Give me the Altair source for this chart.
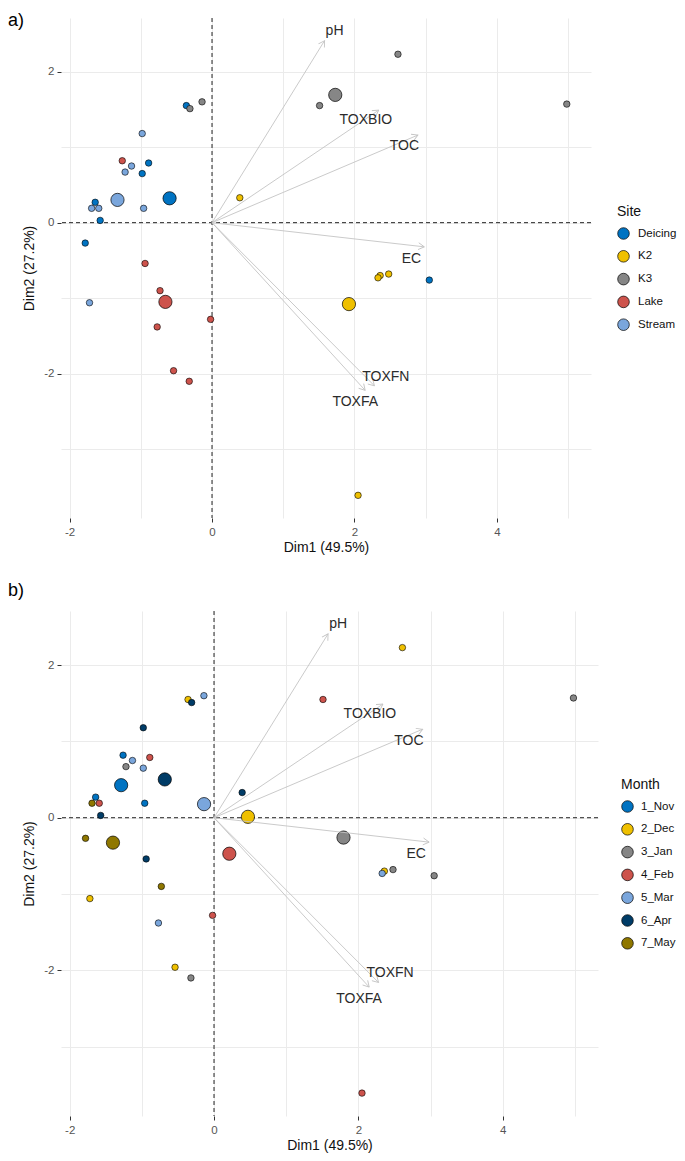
import math
import altair as alt
import pandas as pd

# ---------------- data ----------------
dim1 = [-0.36, -0.89, -0.98, -1.64, -1.57, -1.78, 3.05,          # Deicing
        0.39, 2.36, 2.33, 2.48, 2.05,                             # K2
        -0.31, -0.14, 2.61, 1.51, 4.98,                           # K3
        -1.26, -0.94, -0.73, -0.77, -0.02, -0.54, -0.32,          # Lake
        -0.98, -1.13, -1.22, -1.69, -1.59, -0.96, -1.72]          # Stream
dim2 = [1.55, 0.79, 0.65, 0.27, 0.03, -0.27, -0.76,
        0.33, -0.70, -0.73, -0.68, -3.61,
        1.51, 1.60, 2.23, 1.55, 1.57,
        0.82, -0.54, -0.90, -1.38, -1.28, -1.96, -2.10,
        1.18, 0.75, 0.67, 0.19, 0.19, 0.19, -1.06]
site = ["Deicing"] * 7 + ["K2"] * 5 + ["K3"] * 5 + ["Lake"] * 7 + ["Stream"] * 7
month = ["2_Dec", "4_Feb", "5_Mar", "1_Nov", "6_Apr", "7_May", "3_Jan",
         "6_Apr", "2_Dec", "5_Mar", "3_Jan", "4_Feb",
         "6_Apr", "5_Mar", "2_Dec", "4_Feb", "3_Jan",
         "1_Nov", "6_Apr", "7_May", "5_Mar", "4_Feb", "2_Dec", "3_Jan",
         "6_Apr", "5_Mar", "3_Jan", "7_May", "4_Feb", "1_Nov", "2_Dec"]

site_levels = ["Deicing", "K2", "K3", "Lake", "Stream"]
site_colors = ["#0073C2", "#EFC000", "#868686", "#CD534C", "#7AA6DC"]
month_levels = ["1_Nov", "2_Dec", "3_Jan", "4_Feb", "5_Mar", "6_Apr", "7_May"]
month_colors = ["#0073C2", "#EFC000", "#868686", "#CD534C", "#7AA6DC", "#003C67", "#8F7700"]

var_names = ["pH", "TOXBIO", "TOC", "EC", "TOXFN", "TOXFA"]
var_x = [1.58, 2.34, 2.89, 2.98, 2.28, 2.15]
var_y = [2.41, 1.49, 1.16, -0.32, -2.16, -2.22]
lab_x = [1.72, 2.16, 2.70, 2.80, 2.44, 2.01]
lab_y = [2.54, 1.36, 1.01, -0.48, -2.04, -2.37]

x_ticks = [-2, -1, 0, 1, 2, 3, 4, 5]
y_ticks = [-3, -2, -1, 0, 1, 2]
x_domain = [-2.12, 5.32]
y_domain = [-3.91, 2.71]

panel_tags = ["a)", "b)"]
x_title = "Dim1 (49.5%)"
y_title = "Dim2 (27.2%)"

FONT = "Liberation Sans"

ind = pd.DataFrame({"dim1": dim1, "dim2": dim2, "Site": site, "Month": month})
zero = pd.DataFrame({"z": [0]})

ARROW = "M -0.5 0.866 L 0 0 L 0.5 0.866"


def make_panel(field, levels, colors, w, h, leg_x, leg_y, lab_off, tags=None):
    kx = w / (x_domain[1] - x_domain[0])
    ky = h / (y_domain[1] - y_domain[0])
    ang = [math.degrees(math.atan2(vx * kx, vy * ky)) % 360 for vx, vy in zip(var_x, var_y)]
    var = pd.DataFrame({"name": var_names, "vx": var_x, "vy": var_y,
                        "lx": lab_x, "ly": lab_y, "ang": ang})

    xs = alt.Scale(domain=x_domain, nice=False, zero=False)
    ys = alt.Scale(domain=y_domain, nice=False, zero=False)
    label_expr = "datum.value % 2 === 0 ? toString(datum.value) : ''"
    tick_op = {"condition": {"test": "datum.value % 2 !== 0", "value": 0}, "value": 1}
    xa = alt.Axis(values=x_ticks, labelExpr=label_expr, tickOpacity=tick_op,
                  titlePadding=3, labelPadding=4)
    ya = alt.Axis(values=y_ticks, labelExpr=label_expr, tickOpacity=tick_op,
                  titlePadding=7)

    fill = alt.Fill(f"{field}:N",
                    scale=alt.Scale(domain=levels, range=colors),
                    legend=alt.Legend(title=field, orient="none", labelOffset=lab_off,
                                      legendX=leg_x, legendY=leg_y))

    def X(f):
        return alt.X(f, scale=xs, title=x_title)

    def Y(f):
        return alt.Y(f, scale=ys, title=y_title)

    hline = alt.Chart(zero).mark_rule(strokeDash=[4, 3], color="#222", strokeWidth=1).encode(
        y=Y("z:Q"))
    vline = alt.Chart(zero).mark_rule(strokeDash=[4, 3], color="#222", strokeWidth=1).encode(
        x=X("z:Q"))

    pts = alt.Chart(ind).mark_circle(size=42, stroke="black", strokeWidth=0.6, opacity=1).encode(
        x=alt.X("dim1:Q", scale=xs, title=x_title, axis=xa),
        y=alt.Y("dim2:Q", scale=ys, title=y_title, axis=ya),
        fill=fill,
    )
    means = alt.Chart(ind).transform_aggregate(
        mx="mean(dim1)", my="mean(dim2)", groupby=[field]
    ).mark_circle(size=175, stroke="black", strokeWidth=0.7, opacity=1).encode(
        x=X("mx:Q"), y=Y("my:Q"), fill=fill)

    shafts = alt.Chart(var).transform_calculate(ox="0", oy="0").mark_rule(
        color="#C4C4C4", strokeWidth=0.9).encode(
        x=X("ox:Q"), y=Y("oy:Q"), x2="vx:Q", y2="vy:Q")
    heads = alt.Chart(var).mark_point(shape=ARROW, filled=False, size=190, color="#C4C4C4",
                                      strokeWidth=0.9, opacity=1).encode(
        x=X("vx:Q"), y=Y("vy:Q"), angle=alt.Angle("ang:Q", scale=None))
    labels = alt.Chart(var).mark_text(fontSize=14, font=FONT, color="#2b2b2b").encode(
        x=X("lx:Q"), y=Y("ly:Q"), text="name:N")

    layers = [hline, vline, pts, means, shafts, heads, labels]
    if tags:
        for t, tx, ty in tags:
            layers.append(
                alt.Chart(pd.DataFrame({"tag": [t]})).mark_text(
                    align="left", baseline="top", fontSize=18, font=FONT, color="black"
                ).encode(x=alt.value(tx), y=alt.value(ty), text="tag:N"))
        # invisible anchor keeping the top of the first tag inside the page
        layers.append(
            alt.Chart(pd.DataFrame({"tag": [tags[0][0]]})).mark_point(
                size=1, opacity=0, filled=True
            ).encode(x=alt.value(tags[0][1] + 5), y=alt.value(tags[0][2] - 3.5)))

    return alt.layer(*layers).properties(width=w, height=h)


pa = make_panel("Site", site_levels, site_colors, 530, 500, 556, 187, 8,
                tags=[(panel_tags[0], -53, -6), (panel_tags[1], -53, 564)])
pb = make_panel("Month", month_levels, month_colors, 537, 505, 560, 167, 7)

chart = alt.concat(pa, pb, columns=1, spacing=10).resolve_scale(
    fill="independent", x="independent", y="independent"
).resolve_legend(fill="independent").properties(padding=0).configure(
    font=FONT
).configure_view(stroke=None).configure_axis(
    gridColor="#EBEBEB", gridWidth=1, domain=False,
    labelFont=FONT, titleFont=FONT, labelColor="#555555", titleColor="#111111",
    labelFontSize=11.5, titleFontSize=14, titleFontWeight="normal",
    tickColor="#333333", tickSize=4, labelPadding=3,
).configure_legend(
    titleFont=FONT, labelFont=FONT, titleFontSize=14, titleFontWeight="normal",
    titleColor="#111111", labelColor="#111111", labelFontSize=11.5,
    symbolType="circle", symbolSize=135, symbolStrokeColor="black", symbolStrokeWidth=0.7,
    rowPadding=7.8, titlePadding=8, padding=0,
)

chart.save("out.html", embed_options={"renderer": "svg", "actions": False})
